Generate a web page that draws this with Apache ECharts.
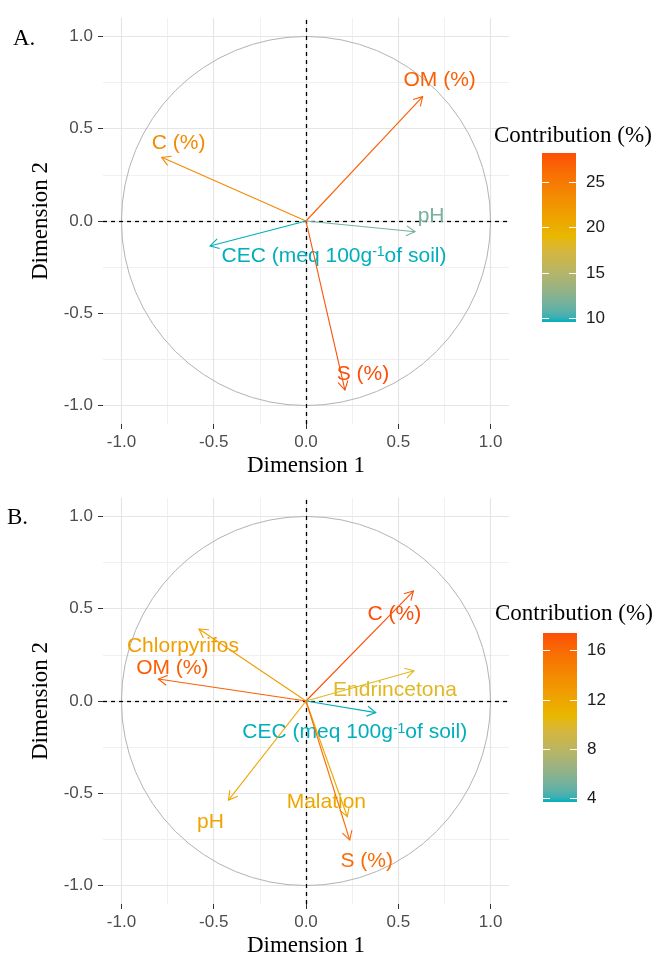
<!DOCTYPE html>
<html>
<head>
<meta charset="utf-8">
<title>PCA variables - contribution</title>
<script src="https://cdn.jsdelivr.net/npm/echarts@6/dist/echarts.min.js"></script>
<style>
  html, body { margin: 0; padding: 0; background: #fff; }
  #chart { width: 658px; height: 955px; }
</style>
</head>
<body>
<div id="chart"></div>
<script>
// A. soil properties
var varsA = ['OM (%)', 'C (%)', 'pH', 'CEC (meq 100g-1 of soil)', 'S (%)'];
var dim1A = [0.632, -0.782, 0.591, -0.520, 0.211];
var dim2A = [0.674, 0.345, -0.058, -0.135, -0.916];
var contribA = [27.0, 23.5, 11.7, 9.63, 28.16];

// B. soil properties + pesticides
var varsB = ['C (%)', 'Chlorpyrifos', 'OM (%)', 'Endrincetona', 'CEC (meq 100g-1 of soil)', 'pH', 'Malation', 'S (%)'];
var dim1B = [0.582, -0.580, -0.800, 0.585, 0.378, -0.420, 0.224, 0.237];
var dim2B = [0.596, 0.390, 0.119, 0.164, -0.063, -0.537, -0.627, -0.753];
var contribB = [17.44, 12.6, 16.6, 10.1, 3.72, 12.0, 11.8, 15.9];

var axisTicks = [-1, -0.5, 0, 0.5, 1];
var gridMajor = [-1, -0.5, 0, 0.5, 1];
var gridMinor = [-0.75, -0.25, 0.25, 0.75];
var legendTicksA = [10, 15, 20, 25];
var legendTicksB = [4, 8, 12, 16];

// label nudges (px from arrow tip), like the repelled labels
var labelOffA = [[17, -16], [17, -14], [16, -16], [124, 10], [18, -16]];
var labelOffB = [[-19, 23], [-16, 17], [14, -11], [-19, 19], [-21, 20], [-18, 22], [-21, -15], [17, 21]];

var gradCols = ['#00AFBB', '#E7B800', '#FC4E07'];
var SANS = 'Liberation Sans', SERIF = 'Liberation Serif';

// ---- colour ramp interpolated in Lab (like scales::gradient_n_pal)
function hexToRgb(h) { var n = parseInt(h.slice(1), 16); return [(n >> 16) & 255, (n >> 8) & 255, n & 255]; }
function toLin(c) { c /= 255; return c <= 0.04045 ? c / 12.92 : Math.pow((c + 0.055) / 1.055, 2.4); }
function fromLin(c) {
    c = c <= 0.0031308 ? 12.92 * c : 1.055 * Math.pow(c, 1 / 2.4) - 0.055;
    return Math.max(0, Math.min(255, Math.round(c * 255)));
}
var WX = 0.95047, WY = 1, WZ = 1.08883;
function rgbToLab(rgb) {
    var r = toLin(rgb[0]), g = toLin(rgb[1]), b = toLin(rgb[2]);
    var x = (0.4124 * r + 0.3576 * g + 0.1805 * b) / WX;
    var y = (0.2126 * r + 0.7152 * g + 0.0722 * b) / WY;
    var z = (0.0193 * r + 0.1192 * g + 0.9505 * b) / WZ;
    var f = function(t) { return t > 0.008856 ? Math.cbrt(t) : 7.787 * t + 16 / 116; };
    var fx = f(x), fy = f(y), fz = f(z);
    return [116 * fy - 16, 500 * (fx - fy), 200 * (fy - fz)];
}
function labToHex(lab) {
    var fy = (lab[0] + 16) / 116, fx = fy + lab[1] / 500, fz = fy - lab[2] / 200;
    var inv = function(t) { var t3 = t * t * t; return t3 > 0.008856 ? t3 : (t - 16 / 116) / 7.787; };
    var x = inv(fx) * WX, y = inv(fy) * WY, z = inv(fz) * WZ;
    var r = 3.2406 * x - 1.5372 * y - 0.4986 * z;
    var g = -0.9689 * x + 1.8758 * y + 0.0415 * z;
    var b = 0.0557 * x - 0.2040 * y + 1.0570 * z;
    return '#' + [r, g, b].map(function(c) { var v = fromLin(c); return (v < 16 ? '0' : '') + v.toString(16); }).join('');
}
function labRamp(hexes, n) {
    var labs = hexes.map(function(h) { return rgbToLab(hexToRgb(h)); });
    var out = [];
    for (var k = 0; k < n; k++) {
        var t = k / (n - 1) * (labs.length - 1);
        var s = Math.min(Math.floor(t), labs.length - 2), u = t - s;
        out.push(labToHex([0, 1, 2].map(function(j) { return labs[s][j] + (labs[s + 1][j] - labs[s][j]) * u; })));
    }
    return out;
}
var ramp = labRamp(gradCols, 41);
var rampStops = ramp.map(function(c, k) { return { offset: k / (ramp.length - 1), color: c }; });

function minOf(a) { return Math.min.apply(null, a); }
function maxOf(a) { return Math.max.apply(null, a); }

// ---- axes
function fmt(v) { return v.toFixed(1); }
function plotX(gi) {
    return {
        type: 'value', gridIndex: gi, min: -1.1, max: 1.1,
        name: 'Dimension 1', nameLocation: 'middle', nameGap: 30,
        nameTextStyle: { fontFamily: SERIF, fontSize: 23, color: '#000' },
        axisLine: { show: false, onZero: false },
        axisTick: { show: true, customValues: axisTicks, length: 5, lineStyle: { color: '#333', width: 1 } },
        axisLabel: { customValues: axisTicks, formatter: fmt, margin: 10, fontSize: 17, fontFamily: SANS, color: '#4d4d4d' },
        splitLine: { show: false }
    };
}
function plotY(gi) {
    return {
        type: 'value', gridIndex: gi, min: -1.1, max: 1.1,
        name: 'Dimension 2', nameLocation: 'middle', nameGap: 50,
        nameTextStyle: { fontFamily: SERIF, fontSize: 23, color: '#000' },
        axisLine: { show: false, onZero: false },
        axisTick: { show: true, customValues: axisTicks, length: 5, lineStyle: { color: '#333', width: 1 } },
        axisLabel: { customValues: axisTicks, formatter: fmt, margin: 10, fontSize: 17, fontFamily: SANS, color: '#4d4d4d' },
        splitLine: { show: false }
    };
}
function barX(gi) {
    return { type: 'value', gridIndex: gi, min: 0, max: 1, show: false };
}
function barY(gi, pos, vals, lo, hi, showLabel) {
    return {
        type: 'value', gridIndex: gi, position: pos, min: lo, max: hi, z: 10,
        axisLine: { show: false, onZero: false },
        splitLine: { show: false },
        axisTick: { show: true, inside: true, length: 7, customValues: vals, lineStyle: { color: '#fff', width: 1 } },
        axisLabel: { show: showLabel, customValues: vals, margin: 10, fontSize: 17, fontFamily: SANS, color: '#1a1a1a' }
    };
}

// ---- series
function gridSeries(gi) {
    var minor = { color: '#f0f0f0', width: 1, type: 'solid' };
    var major = { color: '#e5e5e5', width: 1.2, type: 'solid' };
    var lines = [];
    gridMinor.forEach(function(v) { lines.push({ xAxis: v, lineStyle: minor }); lines.push({ yAxis: v, lineStyle: minor }); });
    gridMajor.forEach(function(v) { lines.push({ xAxis: v, lineStyle: major }); lines.push({ yAxis: v, lineStyle: major }); });
    return {
        type: 'line', xAxisIndex: gi, yAxisIndex: gi, data: [], silent: true, z: 0,
        markLine: { silent: true, z: 0, symbol: ['none', 'none'], label: { show: false }, animation: false, data: lines }
    };
}
function circleSeries(gi) {
    var dash = { color: '#000', width: 1.3, type: [4, 4] };
    return {
        type: 'custom', xAxisIndex: gi, yAxisIndex: gi, z: 1, silent: true,
        data: [[0, 0]],
        renderItem: function(params, api) {
            var c = api.coord([0, 0]);
            var r = api.size([1, 1])[0];
            return { type: 'circle', shape: { cx: c[0], cy: c[1], r: r }, style: { fill: null, stroke: '#b3b3b3', lineWidth: 1 } };
        },
        markLine: {
            silent: true, z: 2, symbol: ['none', 'none'], label: { show: false }, animation: false,
            data: [{ xAxis: 0, lineStyle: dash }, { yAxis: 0, lineStyle: dash }]
        }
    };
}
function arrowSeries(gi, names, d1, d2, contrib, offs) {
    return {
        type: 'custom', xAxisIndex: gi, yAxisIndex: gi, z: 5, silent: true,
        dimensions: ['dim1', 'dim2', 'contrib'],
        encode: { x: 0, y: 1 },
        data: names.map(function(n, i) { return [d1[i], d2[i], contrib[i]]; }),
        renderItem: function(params, api) {
            var i = params.dataIndex;
            var o = api.coord([0, 0]);
            var t = api.coord([api.value(0), api.value(1)]);
            var color = api.visual('color');
            var ang = Math.atan2(t[1] - o[1], t[0] - o[0]);
            var L = 10, a = Math.PI / 6;
            var h1 = [t[0] - L * Math.cos(ang - a), t[1] - L * Math.sin(ang - a)];
            var h2 = [t[0] - L * Math.cos(ang + a), t[1] - L * Math.sin(ang + a)];
            var label = names[i].replace('g-1 ', 'g{s|-1}');
            return {
                type: 'group',
                children: [
                    { type: 'line', shape: { x1: o[0], y1: o[1], x2: t[0], y2: t[1] }, style: { stroke: color, lineWidth: 1.1 } },
                    { type: 'polyline', shape: { points: [h1, t, h2] }, style: { stroke: color, fill: null, lineWidth: 1.1 } },
                    {
                        type: 'text', x: t[0] + offs[i][0], y: t[1] + offs[i][1],
                        style: {
                            text: label, fill: color, fontSize: 21, fontFamily: SANS,
                            align: 'center', verticalAlign: 'middle',
                            rich: { s: { fontSize: 14, fontFamily: SANS, verticalAlign: 'top', fill: color } }
                        }
                    }
                ]
            };
        }
    };
}
function colorbarSeries(gi, yi, contrib) {
    return {
        type: 'custom', xAxisIndex: gi, yAxisIndex: yi, z: 2, silent: true,
        data: [[minOf(contrib), maxOf(contrib)]],
        renderItem: function(params, api) {
            var p0 = api.coord([0, api.value(0)]);
            var p1 = api.coord([1, api.value(1)]);
            return {
                type: 'rect',
                shape: { x: p0[0], y: p1[1], width: p1[0] - p0[0], height: p0[1] - p1[1] },
                style: { fill: new echarts.graphic.LinearGradient(0, 1, 0, 0, rampStops) }
            };
        }
    };
}

var myChart = echarts.init(document.getElementById('chart'), null, { renderer: 'canvas' });
var serifTitle = { fontFamily: SERIF, fontSize: 23, fontWeight: 'normal', color: '#000' };
var option = {
    backgroundColor: '#fff',
    animation: false,
    title: [
        { text: 'A.', left: 13, top: 27, padding: 0, textStyle: serifTitle },
        { text: 'B.', left: 7, top: 506, padding: 0, textStyle: serifTitle },
        { text: 'Contribution (%)', left: 494, top: 124, padding: 0, textStyle: serifTitle },
        { text: 'Contribution (%)', left: 495, top: 602, padding: 0, textStyle: serifTitle }
    ],
    grid: [
        { left: 103, top: 18, width: 406, height: 406, outerBoundsMode: 'none' },
        { left: 103, top: 498, width: 406, height: 406, outerBoundsMode: 'none' },
        { left: 542, top: 153, width: 34, height: 169, outerBoundsMode: 'none' },
        { left: 543, top: 633, width: 34, height: 169, outerBoundsMode: 'none' }
    ],
    xAxis: [plotX(0), plotX(1), barX(2), barX(3)],
    yAxis: [
        plotY(0), plotY(1),
        barY(2, 'right', legendTicksA, minOf(contribA), maxOf(contribA), true),
        barY(2, 'left', legendTicksA, minOf(contribA), maxOf(contribA), false),
        barY(3, 'right', legendTicksB, minOf(contribB), maxOf(contribB), true),
        barY(3, 'left', legendTicksB, minOf(contribB), maxOf(contribB), false)
    ],
    visualMap: [
        { type: 'continuous', show: false, seriesIndex: 4, dimension: 2, min: minOf(contribA), max: maxOf(contribA), inRange: { color: ramp } },
        { type: 'continuous', show: false, seriesIndex: 5, dimension: 2, min: minOf(contribB), max: maxOf(contribB), inRange: { color: ramp } }
    ],
    series: [
        gridSeries(0),
        gridSeries(1),
        circleSeries(0),
        circleSeries(1),
        arrowSeries(0, varsA, dim1A, dim2A, contribA, labelOffA),
        arrowSeries(1, varsB, dim1B, dim2B, contribB, labelOffB),
        colorbarSeries(2, 2, contribA),
        colorbarSeries(3, 4, contribB)
    ]
};
myChart.setOption(option);
window.addEventListener('resize', function() {
    myChart.resize();
});
</script>
</body>
</html>
